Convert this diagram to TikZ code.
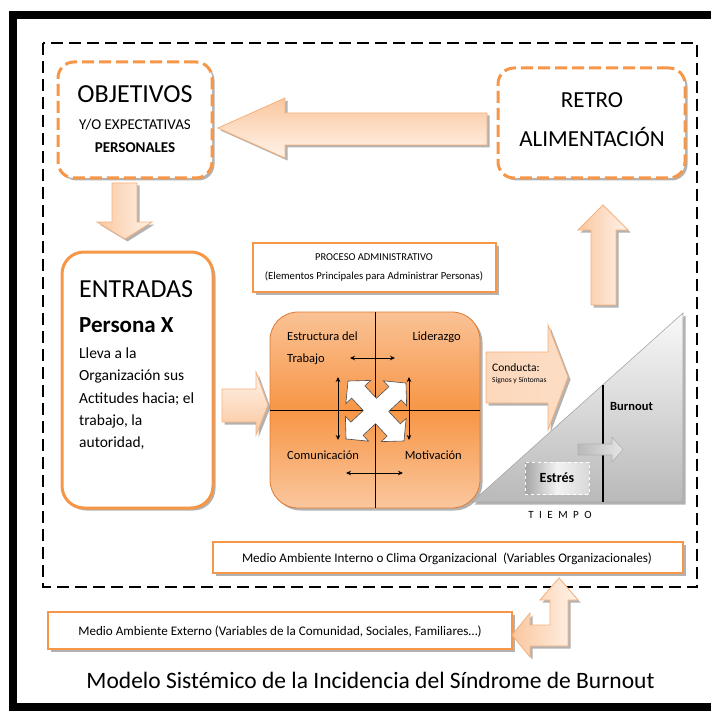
\documentclass[tikz,border=0pt]{standalone}
\usepackage{fontspec}
\setmainfont{Carlito}
\usetikzlibrary{shadows,arrows.meta}
\definecolor{orng}{HTML}{F79646}
\definecolor{orngdark}{HTML}{E07A30}
\definecolor{peach}{HTML}{FAC79E}
\definecolor{peachl}{HTML}{FFF3EA}
\definecolor{arredge}{HTML}{F6B07C}
\newcommand\myfs[1]{\fontsize{#1}{#1}\selectfont}
\tikzset{
  shd/.style={drop shadow={shadow xshift=2.5pt,shadow yshift=-2.5pt,opacity=0.3,fill=black}},
  obox/.style={draw=orng,line width=3pt,fill=white,rounded corners=16pt,shd,inner sep=0pt},
  dashbox/.style={obox,dash pattern=on 12pt off 5pt},
  pbox/.style={draw=orng,line width=2.6pt,fill=white,shd,inner sep=0pt},
  barrow/.style={draw=arredge,line width=0.8pt,shd},
  lbl/.style={inner sep=0pt,anchor=base},
  dblarr/.style={{Stealth[length=5pt,width=4.5pt]}-{Stealth[length=5pt,width=4.5pt]},line width=0.9pt},
  vline/.style={draw=black,line width=0.7pt}
}
\begin{document}
\begin{tikzpicture}[x=1pt,y=-1pt]
\useasboundingbox (0,0) rectangle (711,711);
% outer frame
\draw[line width=7.5pt] (13,15) rectangle (718,707);
% dashed system boundary
\draw[line width=1.8pt,dash pattern=on 12pt off 6pt] (43,43) rectangle (697,587);

% ---- boxes ----
\node[dashbox,minimum width=154pt,minimum height=116pt] (obj) at (135,120) {};
\node[dashbox,minimum width=187pt,minimum height=110pt] (retro) at (591.5,123) {};
\node[obox,rounded corners=22pt,minimum width=151pt,minimum height=256pt] (ent) at (137.5,380) {};
\node[pbox,minimum width=243pt,minimum height=49pt] (proc) at (374.5,267.5) {};
\node[pbox,minimum width=470pt,minimum height=31pt] (interno) at (448,557.5) {};
\node[pbox,minimum width=464pt,minimum height=37pt] (externo) at (280,630.5) {};

% ---- big arrows ----
% left arrow (retro -> objetivos)
\draw[barrow,top color=peach,bottom color=peachl]
  (218,128) -- (285,98) -- (285,113) -- (487,113) -- (487,145) -- (285,145) -- (285,158) -- cycle;
% down arrow (objetivos -> entradas)
\draw[barrow,left color=peach,right color=peachl]
  (112,183) -- (137,183) -- (137,222) -- (152,222) -- (125,239) -- (97,222) -- (112,222) -- cycle;
% up arrow (to retro)
\draw[barrow,left color=peach,right color=peachl]
  (603,205) -- (628,230) -- (616,230) -- (616,305) -- (591,305) -- (591,230) -- (578,230) -- cycle;
% right arrow (entradas -> proceso)
\draw[barrow,top color=peachl,bottom color=peach]
  (222,389) -- (256,389) -- (256,372) -- (268,405) -- (256,435) -- (256,422) -- (222,422) -- cycle;

% ---- central process box ----
\node[draw=orngdark,line width=0.8pt,rounded corners=28pt,minimum width=210pt,minimum height=196pt,
  top color=peach!90!orng,bottom color=peach,middle color=orng,shd,inner sep=0pt] (core) at (375,410) {};
\draw[vline] (core.north) -- (core.south);
\draw[vline] (core.west) -- (core.east);
\node[lbl,anchor=base west] (estr) at (287,340) {\myfs{12.5}Estructura del};
\node[lbl,anchor=base west] (trab) at (287,362) {\myfs{12.5}Trabajo};
\node[lbl,anchor=base east] (lider) at (461,340) {\myfs{12.5}Liderazgo};
\node[lbl,anchor=base west] (comu) at (287,459) {\myfs{12.5}Comunicación};
\node[lbl,anchor=base east] (moti) at (462,459) {\myfs{12.5}Motivación};
\coordinate (h1a) at (350,358); \coordinate (h1b) at (395,358);
\coordinate (h2a) at (346,473); \coordinate (h2b) at (403,473);
\coordinate (v1a) at (338,377); \coordinate (v1b) at (338,440);
\coordinate (v2a) at (409,377); \coordinate (v2b) at (409,440);
\draw[dblarr] (h1a) -- (h1b);
\draw[dblarr] (h2a) -- (h2b);
\draw[dblarr] (v1a) -- (v1b);
\draw[dblarr] (v2a) -- (v2b);
% white four-way arrow
\begin{scope}[shift={(376,411)},rotate=43]
\def\t{41}\def\b{26}\def\h{17}\def\w{9}
\draw[fill=white,draw=black!70,line width=0.6pt]
  (\w,-\w) -- (\b,-\w) -- (\b,-\h) -- (\t,0) -- (\b,\h) -- (\b,\w) -- (\w,\w)
  -- (\w,\b) -- (\h,\b) -- (0,\t) -- (-\h,\b) -- (-\w,\b) -- (-\w,\w)
  -- (-\b,\w) -- (-\b,\h) -- (-\t,0) -- (-\b,-\h) -- (-\b,-\w) -- (-\w,-\w)
  -- (-\w,-\b) -- (-\h,-\b) -- (0,-\t) -- (\h,-\b) -- (\w,-\b) -- cycle;
\end{scope}

% ---- conducta arrow ----
\draw[barrow,left color=peach!70!white,right color=peach!60!white]
  (486,352) -- (548,352) -- (548,325) -- (568,377) -- (548,430) -- (548,403) -- (486,403) -- cycle;
\node[lbl,anchor=base west] (cond) at (492,371) {\myfs{11.5}Conducta:};
\node[lbl,anchor=base west] (sig) at (492,382) {\myfs{7.5}Signos y Síntomas};

% ---- triangle (time) ----
\draw[draw=gray!70,line width=0.6pt,top color=gray!5,bottom color=gray!55,shd]
  (472,502) -- (683,313) -- (683,502) -- cycle;
\draw[line width=2.6pt] (603,385) -- (603,502);
\node[lbl,anchor=base west,font=\bfseries] (burn) at (610,410) {\myfs{12.5}Burnout};
\draw[draw=gray!60,line width=0.6pt,left color=gray!55,right color=gray!20]
  (578,444) -- (612,444) -- (612,437) -- (623,449.5) -- (612,462) -- (612,455) -- (578,455) -- cycle;
\node[draw=white,dashed,line width=0.9pt,left color=gray!70,right color=gray!30,middle color=gray!10,
  minimum width=64pt,minimum height=32pt,inner sep=0pt] (estres) at (557,478) {};
\node[font=\bfseries,inner sep=0pt] (estrestxt) at (557,478) {\myfs{14}Estrés};
\node[lbl] (tiempo) at (560,518) {\myfs{11}\addfontfeature{LetterSpace=50}TIEMPO};

% ---- bent double arrow (externo <-> interno) ----
\draw[barrow,left color=peach,right color=peachl]
  (559,578) -- (578,600) -- (568,600) -- (568,646) -- (530,646) -- (530,657) -- (512,635)
  -- (530,613) -- (530,625) -- (550,625) -- (550,600) -- (540,600) -- cycle;

% ---- texts ----
\node[lbl] (objt1) at (135,103) {\myfs{26}OBJETIVOS};
\node[lbl] (objt2) at (135,130) {\myfs{15}Y/O EXPECTATIVAS};
\node[lbl,font=\bfseries] (objt3) at (135,153) {\myfs{15}PERSONALES};
\node[lbl] (rt1) at (592,108) {\myfs{23}RETRO};
\node[lbl] (rt2) at (592,147) {\myfs{23}ALIMENTACIÓN};
\node[lbl,anchor=base west] (et1) at (79,297) {\myfs{26}ENTRADAS};
\node[lbl,anchor=base west,font=\bfseries] (et2) at (79,332) {\myfs{23}Persona X};
\node[lbl,anchor=base west] (et3) at (79,358) {\myfs{15.5}Lleva a la};
\node[lbl,anchor=base west] (et4) at (79,380) {\myfs{15.5}Organización sus};
\node[lbl,anchor=base west] (et5) at (79,403) {\myfs{15.5}Actitudes hacia; el};
\node[lbl,anchor=base west] (et6) at (79,425) {\myfs{15.5}trabajo, la};
\node[lbl,anchor=base west] (et7) at (79,447) {\myfs{15.5}autoridad,};
\node[lbl] (pt1) at (374,260) {\myfs{10.5}PROCESO ADMINISTRATIVO};
\node[lbl] (pt2) at (374,279) {\myfs{10.7}(Elementos Principales para Administrar Personas)};
\node[lbl] (it) at (447,562) {\myfs{13.1}Medio Ambiente Interno o Clima Organizacional\ \ (Variables Organizacionales)};
\node[lbl] (xt) at (280,635) {\myfs{13.1}Medio Ambiente Externo (Variables de la Comunidad, Sociales, Familiares…)};
\node[lbl] (title) at (370.5,688) {\myfs{23.5}Modelo Sistémico de la Incidencia del Síndrome de Burnout};
\end{tikzpicture}
\end{document}
